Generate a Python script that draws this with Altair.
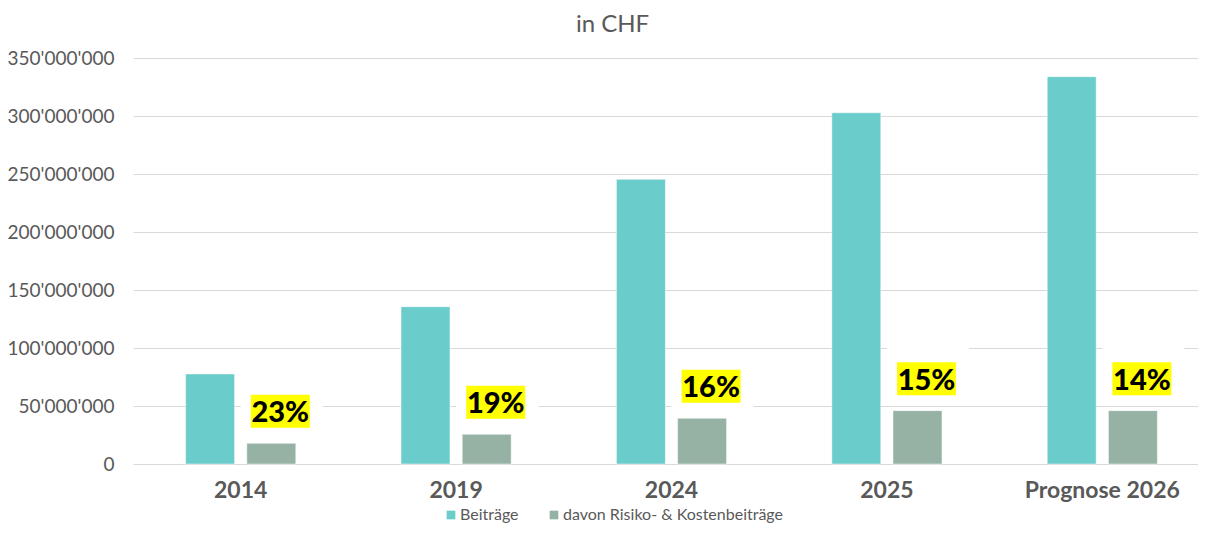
import altair as alt
import pandas as pd

# ---- data ----
categories = ["2014", "2019", "2024", "2025", "Prognose 2026"]
beitraege = [77.6e6, 135.6e6, 245.4e6, 302.8e6, 333.9e6]
davon = [17.8e6, 25.6e6, 39.4e6, 46.0e6, 46.0e6]
anteil = ["23%", "19%", "16%", "15%", "14%"]
series_names = ["Beiträge", "davon Risiko- & Kostenbeiträge"]
series_colors = ["#6BCDCB", "#95B2A5"]
y_ticks = [0, 50e6, 100e6, 150e6, 200e6, 250e6, 300e6, 350e6]

rows = []
for c, b, d in zip(categories, beitraege, davon):
    rows.append({"Jahr": c, "Serie": series_names[0], "Wert": b})
    rows.append({"Jahr": c, "Serie": series_names[1], "Wert": d})
bars_df = pd.DataFrame(rows)
lab_df = pd.DataFrame({"Jahr": categories, "Serie": series_names[1],
                       "Wert": davon, "Label": anteil})

FONT = "Lato"
GREY = "#595959"

x_enc = alt.X(
    "Jahr:N", sort=categories,
    scale=alt.Scale(paddingInner=0, paddingOuter=0, range=[0, 1077]),
    axis=alt.Axis(title=None, labelAngle=0, labelFont=FONT, labelFontSize=23,
                  labelFontWeight="bold", labelColor=GREY, ticks=False,
                  domain=False, labelPadding=26, labelBaseline="middle", grid=False),
)
xoff = alt.XOffset(
    "Serie:N", sort=series_names,
    scale=alt.Scale(domain=series_names, paddingInner=0.2, paddingOuter=0.86),
)
y_enc = alt.Y(
    "Wert:Q",
    scale=alt.Scale(domain=[0, 350e6], nice=False),
    axis=alt.Axis(title=None, values=y_ticks,
                  labelExpr="replace(format(datum.value, ','), /,/g, \"'\")",
                  labelFont=FONT, labelFontSize=19, labelColor=GREY,
                  grid=True, gridColor="#d9d9d9", gridWidth=1,
                  ticks=False, domain=False, labelPadding=19),
)

bars = alt.Chart(bars_df).mark_bar(
    stroke="white", strokeWidth=0.8, strokeOpacity=0.6
).encode(
    x=x_enc, xOffset=xoff, y=y_enc,
    color=alt.Color(
        "Serie:N", sort=series_names,
        scale=alt.Scale(domain=series_names, range=series_colors),
        legend=alt.Legend(title=None, orient="none", legendX=310, legendY=449,
                          direction="horizontal", symbolType="square",
                          symbolSize=75, symbolStrokeWidth=0, labelFont=FONT,
                          labelFontSize=16, labelColor=GREY, labelOffset=1,
                          columnPadding=27, padding=0, labelLimit=400),
    ),
)

white_box = alt.Chart(lab_df).mark_point(
    shape="M-0.61,-1.27 L1.03,-1.27 L1.03,-0.21 L-0.61,-0.21 Z",
    filled=True, color="white", opacity=1, size=10000, strokeWidth=0,
).encode(x=x_enc, xOffset=xoff, y=y_enc)

yellow_box = alt.Chart(lab_df).mark_point(
    shape="M-0.41,-0.97 L0.77,-0.97 L0.77,-0.31 L-0.41,-0.31 Z",
    filled=True, color="#FFFF00", opacity=1, size=10000, strokeWidth=0,
).encode(x=x_enc, xOffset=xoff, y=y_enc)

labels = alt.Chart(lab_df).mark_text(
    font=FONT, fontSize=29, fontWeight=900, color="black",
    baseline="middle", dx=9, dy=-30,
).encode(x=x_enc, xOffset=xoff, y=y_enc, text="Label:N")

chart = alt.layer(white_box, bars, yellow_box, labels).properties(
    width=1065, height=406,
    title=alt.TitleParams("in CHF", font=FONT, fontSize=24, fontWeight="normal",
                          color=GREY, anchor="middle", dx=-53, offset=12),
    autosize=alt.AutoSizeParams(type="none"),
    padding={"left": 125, "top": 50, "right": 0, "bottom": 64},
).configure_view(stroke=None)

chart.save("out.html", embed_options={"renderer": "svg", "actions": False})
